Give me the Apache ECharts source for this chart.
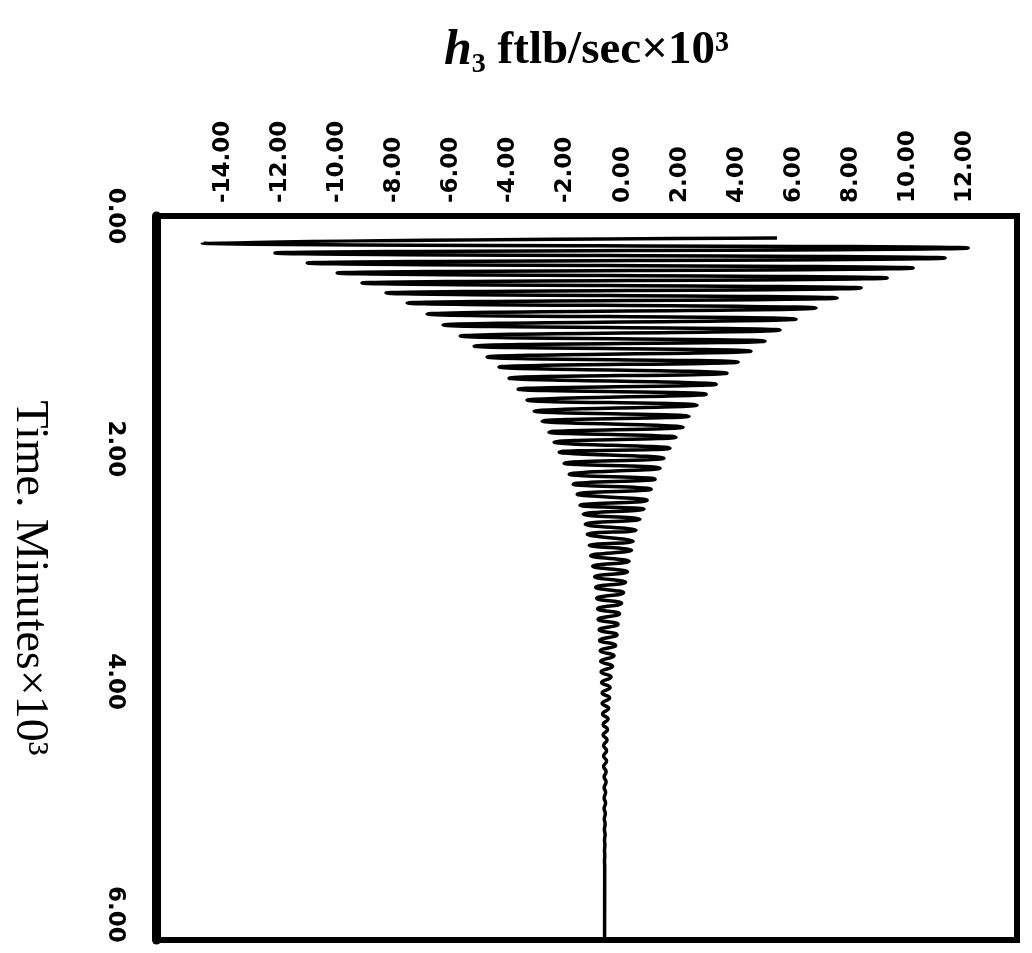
<!DOCTYPE html>
<html><head><meta charset="utf-8">
<script src="https://cdn.jsdelivr.net/npm/echarts@6/dist/echarts.min.js"></script>
<style>html,body{margin:0;padding:0;background:#fff}#c{width:1032px;height:953px}</style>
</head><body><div id="c"></div>
<script>
// Time, minutes x 10^3 (successive turning points of the trace)
const timeK = [0.189,0.232,0.275,0.318,0.361,0.404,0.447,0.490,0.533,0.576,0.619,0.662,0.705,0.748,0.791,0.843,0.886,0.937,0.980,1.032,
1.075,1.118,1.161,1.212,1.255,1.298,1.350,1.393,1.445,1.488,1.531,1.582,1.625,1.677,1.720,1.763,1.814,1.857,1.900,1.943,
1.995,2.029,2.081,2.124,2.167,2.218,2.261,2.304,2.347,2.390,2.442,2.485,2.519,2.562,2.605,2.648,2.700,2.734,2.795,2.829,
2.872,2.919,2.966,3.009,3.057,3.100,3.147,3.190,3.237,3.285,3.328,3.375,3.418,3.465,3.508,3.555,3.598,3.646,3.689,3.736,
3.779,3.826,3.869,3.917,3.960,4.007,4.050,4.097,4.140,4.187,4.230,4.278,4.321,4.368,4.411,4.458,4.501,4.549,4.592,4.639,
4.682,4.729,4.772,4.819,4.862,4.910,4.953,5.000,5.043,5.090,5.133,5.181,5.224,5.271,5.314,5.361,5.404,5.451,5.494,5.542,
5.585,6.200];
// h3, ftlb/sec x 10^3 at those times
const h3 = [5.41,-14.73,12.11,-12.18,11.30,-11.05,10.18,-10.00,9.27,-9.13,8.36,-8.29,7.52,-7.55,6.78,-6.85,6.08,-6.29,5.52,-5.69,
4.99,-5.20,4.50,-4.75,4.05,-4.33,3.66,-3.98,3.28,-3.66,2.93,-3.35,2.61,-3.10,2.33,-2.82,2.12,-2.58,1.87,-2.40,
1.66,-2.22,1.45,-2.05,1.31,-1.87,1.14,-1.73,1.00,-1.59,0.86,-1.49,0.75,-1.38,0.61,-1.31,0.47,-1.24,0.37,-1.17,
0.315,-1.121,0.228,-1.051,0.175,-0.981,0.105,-0.946,0.035,-0.911,-0.035,-0.876,-0.105,-0.858,-0.158,-0.823,-0.193,-0.806,-0.245,-0.788,
-0.298,-0.771,-0.350,-0.753,-0.403,-0.736,-0.438,-0.718,-0.455,-0.718,-0.491,-0.701,-0.508,-0.683,-0.526,-0.683,-0.543,-0.666,-0.561,-0.666,
-0.561,-0.666,-0.578,-0.648,-0.578,-0.648,-0.596,-0.648,-0.596,-0.648,-0.606,-0.641,-0.613,-0.638,-0.613,-0.634,-0.620,-0.634,-0.624,-0.634,
-0.627,-0.631];
const hTicks = [-14,-12,-10,-8,-6,-4,-2,0,2,4,6,8,10,12];
const tTicks = [0,2,4,6];
const hRange = [-16.35, 13.82];
const tRange = [0, 6.22];

const pts = timeK.map((t, i) => [h3[i], t]);
const chart = echarts.init(document.getElementById('c'), null, {renderer: 'canvas'});
const tickFont = {fontFamily: 'DejaVu Sans', fontWeight: 'bold', fontSize: 23, color: '#000'};
chart.setOption({
  animation: false,
  backgroundColor: '#fff',
  grid: {left: 156, right: 15, top: 216, bottom: 13, show: true, borderColor: '#000', borderWidth: 6, outerBoundsMode: 'none'},
  xAxis: {
    type: 'value', position: 'top', min: hRange[0], max: hRange[1],
    splitLine: {show: false}, axisTick: {show: false}, axisLine: {show: false, onZero: false},
    axisLabel: Object.assign({rotate: -90, margin: 13, customValues: hTicks, formatter: v => v.toFixed(2)}, tickFont),
    name: '{i|h}{b|\u2083 ftlb/sec\u00d710\u00b3}', nameLocation: 'middle', nameGap: 140,
    nameTextStyle: {rich: {
      i: {fontFamily: 'Liberation Serif', fontStyle: 'italic', fontWeight: 'bold', fontSize: 50, color: '#000'},
      b: {fontFamily: 'Liberation Serif', fontWeight: 'bold', fontSize: 47, color: '#000'}
    }}
  },
  yAxis: {
    type: 'value', inverse: true, min: tRange[0], max: tRange[1],
    splitLine: {show: false}, axisTick: {show: false},
    axisLine: {show: true, onZero: false, lineStyle: {color: '#000', width: 9}},
    axisLabel: Object.assign({rotate: -90, margin: 30, customValues: tTicks, formatter: v => v.toFixed(2)}, tickFont),
    name: 'Time. Minutes\u00d710\u00b3', nameLocation: 'middle', nameRotate: -90, nameGap: 104,
    nameTextStyle: {fontFamily: 'Liberation Serif', fontSize: 46, color: '#000'}
  },
  series: [{
    type: 'line', data: pts, showSymbol: false, smooth: 0.5,
    lineStyle: {color: '#000', width: 3.5}, z: 1
  }]
});
</script></body></html>
